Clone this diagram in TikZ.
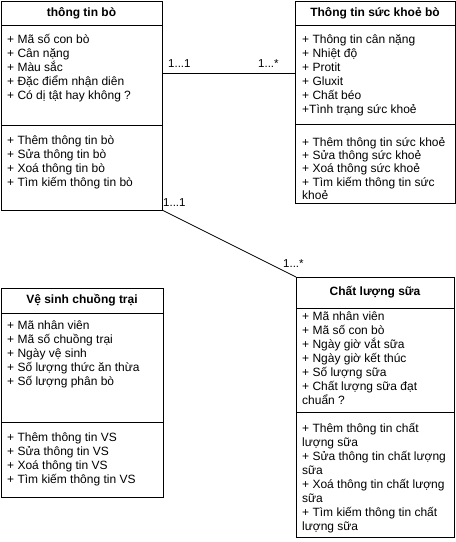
\documentclass[tikz,border=0pt]{standalone}
\usepackage{fontspec}
\setmainfont{Liberation Sans}
\usetikzlibrary{calc}
\begin{document}
\begin{tikzpicture}[x=1pt,y=-1pt,
  comp/.style={draw, line width=0.8pt, anchor=north west, inner sep=0pt, outer sep=0pt},
  ttl/.style={font=\fontsize{12}{14}\selectfont\bfseries},
  txt/.style={font=\fontsize{12}{14}\selectfont, anchor=base west, inner sep=0pt},
  lbl/.style={font=\fontsize{11.5}{14}\selectfont, anchor=base west, inner sep=0pt},
  conn/.style={line width=0.8pt}]
\useasboundingbox[fill=white] (0,0) rectangle (456,542);

% ---- thong tin bo
\node[comp, ttl, minimum width=161pt, minimum height=24pt] (b1t) at (1,1) {thông tin bò};
\node[comp, minimum width=161pt, minimum height=100pt] (b1a) at (1,25) {};
\node[comp, minimum width=161pt, minimum height=85pt] (b1m) at (1,125) {};
\foreach \t [count=\i] in {{+ Mã số con bò},{+ Cân nặng},{+ Màu sắc},{+ Đặc điểm nhận diên},{+ Có dị tật hay không ?}}
  \node[txt] (b1a-\i) at (7,{43+14*(\i-1)}) {\t};
\foreach \t [count=\i] in {{+ Thêm thông tin bò},{+ Sửa thông tin bò},{+ Xoá thông tin bò},{+ Tìm kiếm thông tin bò}}
  \node[txt] (b1m-\i) at (7,{144+14*(\i-1)}) {\t};

% ---- thong tin suc khoe bo
\node[comp, ttl, minimum width=160pt, minimum height=24pt] (b2t) at (295,1) {Thông tin sức khoẻ bò};
\node[comp, minimum width=160pt, minimum height=99pt] (b2a) at (295,25) {};
\node[comp, minimum width=160pt, minimum height=79pt] (b2m) at (295,124) {};
\foreach \t [count=\i] in {{+ Thông tin cân nặng},{+ Nhiệt độ},{+ Protit},{+ Gluxit},{+ Chất béo},{+Tình trạng sức khoẻ}}
  \node[txt] (b2a-\i) at (302,{43+14*(\i-1)}) {\t};
\foreach \t [count=\i] in {{+ Thêm thông tin sức khoẻ},{+ Sửa thông sức khoẻ},{+ Xoá thông sức khoẻ},{+ Tìm kiếm thông tin sức},{khoẻ}}
  \node[txt] (b2m-\i) at (302,{146+13.4*(\i-1)}) {\t};

% ---- ve sinh chuong trai
\node[comp, ttl, minimum width=162pt, minimum height=25pt] (b3t) at (1,288) {Vệ sinh chuồng trại};
\node[comp, minimum width=162pt, minimum height=109pt] (b3a) at (1,313) {};
\node[comp, minimum width=162pt, minimum height=75pt] (b3m) at (1,422) {};
\foreach \t [count=\i] in {{+ Mã nhân viên},{+ Mã số chuồng trại},{+ Ngày vệ sinh},{+ Số lượng thức ăn thừa},{+ Số lượng phân bò}}
  \node[txt] (b3a-\i) at (7,{329+14*(\i-1)}) {\t};
\foreach \t [count=\i] in {{+ Thêm thông tin VS},{+ Sửa thông tin VS},{+ Xoá thông tin VS},{+ Tìm kiếm thông tin VS}}
  \node[txt] (b3m-\i) at (7,{441+14*(\i-1)}) {\t};

% ---- chat luong sua
\node[comp, ttl, minimum width=158pt, minimum height=31pt] (b5t) at (296,277) {Chất lượng sữa};
\node[comp, minimum width=158pt, minimum height=104pt] (b5a) at (296,308) {};
\node[comp, minimum width=158pt, minimum height=125pt] (b5m) at (296,412) {};
\foreach \t [count=\i] in {{+ Mã nhân viên},{+ Mã số con bò},{+ Ngày giờ vắt sữa},{+ Ngày giờ kết thúc},{+ Số lượng sữa},{+ Chất lượng sữa đạt},{chuẩn ?}}
  \node[txt] (b5a-\i) at (302,{320+14*(\i-1)}) {\t};
\foreach \t [count=\i] in {{+ Thêm thông tin chất},{lượng sữa},{+ Sửa thông tin chất lượng},{sữa},{+ Xoá thông tin chất lượng},{sữa},{+ Tìm kiếm thông tin chất},{lượng sữa}}
  \node[txt] (b5m-\i) at (302,{432+14*(\i-1)}) {\t};

% ---- connectors
\draw[conn] ($(b1a.north east)+(0,48)$) -- ($(b2a.north west)+(0,48)$);
\node[lbl] (l1a) at (168,67) {1...1};
\node[lbl] (l1b) at (258,67) {1...*};
\draw[conn] (b1m.south east) -- (b5t.north west);
\node[lbl] (l2a) at (163,206) {1...1};
\node[lbl] (l2b) at (283,267) {1...*};
\end{tikzpicture}
\end{document}
